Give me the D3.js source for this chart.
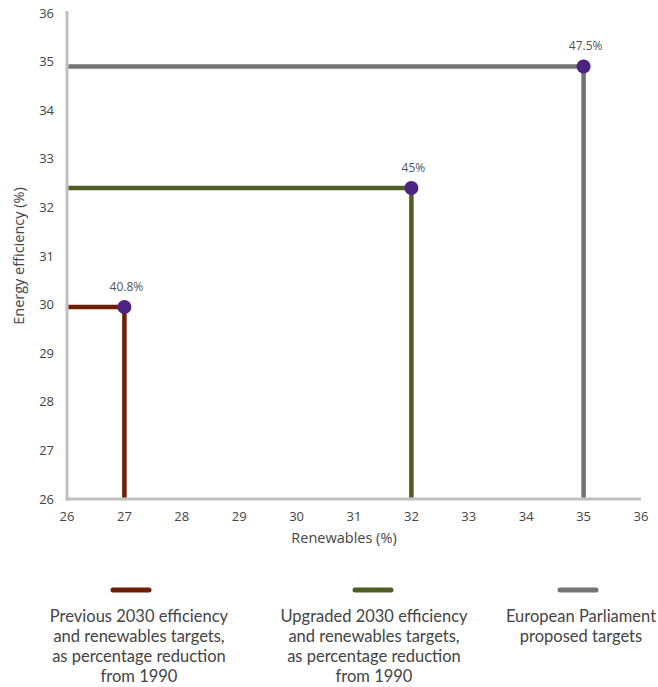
<!DOCTYPE html>
<html><head><meta charset="utf-8">
<script src="https://cdn.jsdelivr.net/npm/d3@7"></script>
<style>
body{margin:0;background:#fff;}
svg{display:block;font-family:"Open Sans",sans-serif;}
</style></head>
<body><svg id="c" width="658" height="687"></svg>
<script>
const seriesNames = ["Previous 2030 efficiency and renewables targets, as percentage reduction from 1990",
  "Upgraded 2030 efficiency and renewables targets, as percentage reduction from 1990",
  "European Parliament proposed targets"];
const renewables = [27, 32, 35];
const efficiency = [29.95, 32.4, 34.9];
const reductionLabels = ["40.8%", "45%", "47.5%"];
const xTicks = [26,27,28,29,30,31,32,33,34,35,36];
const yTicks = [26,27,28,29,30,31,32,33,34,35,36];
const legendLines = [
  ["Previous 2030 efficiency","and renewables targets,","as percentage reduction","from 1990"],
  ["Upgraded 2030 efficiency","and renewables targets,","as percentage reduction","from 1990"],
  ["European Parliament","proposed targets"]
];
const colors = ["#6e1d06","#4f5e22","#747474"];
const dotColor = "#4e2283";

const svg = d3.select("#c");
const x = d3.scaleLinear().domain([26,36]).range([67,641]);
const y = d3.scaleLinear().domain([26,36]).range([499,13]);

// axis lines
svg.append("line").attr("x1",x(26)).attr("x2",x(26)).attr("y1",11).attr("y2",y(26)+1.5)
  .attr("stroke","#bfbfbf").attr("stroke-width",3);
svg.append("line").attr("x1",x(26)-1.5).attr("x2",x(36)).attr("y1",y(26)).attr("y2",y(26))
  .attr("stroke","#bfbfbf").attr("stroke-width",3);

// ticks
svg.append("g").selectAll("text").data(xTicks).join("text")
  .attr("x",d=>x(d)).attr("y",521).attr("text-anchor","middle")
  .attr("font-size",13).attr("fill","#444").text(d=>d);
svg.append("g").selectAll("text").data(yTicks).join("text")
  .attr("x",54).attr("y",d=>y(d)+4.5).attr("text-anchor","end")
  .attr("font-size",13).attr("fill","#444").text(d=>d);

// axis titles
svg.append("text").attr("x",344).attr("y",543).attr("text-anchor","middle")
  .attr("font-size",14.5).attr("fill","#444").text("Renewables (%)");
svg.append("text").attr("transform","translate(24,256) rotate(-90)").attr("text-anchor","middle")
  .attr("font-size",14.5).attr("fill","#444").text("Energy efficiency (%)");

// lines
const data = renewables.map((r,i)=>({r, e:efficiency[i], lab:reductionLabels[i], c:colors[i]}));
const g = svg.append("g");
data.forEach(d=>{
  g.append("path")
    .attr("d",`M${x(26)+1.5},${y(d.e)}H${x(d.r)}V${y(26)-1.5}`)
    .attr("fill","none").attr("stroke",d.c).attr("stroke-width",4.5);
});
data.forEach(d=>{
  g.append("circle").attr("cx",x(d.r)).attr("cy",y(d.e)).attr("r",7).attr("fill",dotColor);
  g.append("text").attr("x",x(d.r)+2).attr("y",y(d.e)-16).attr("text-anchor","middle")
    .attr("font-size",12).attr("fill","#555").text(d.lab);
});

// legend
const swatchX = [131,373,578];
const textX = [139,374,581];
legendLines.forEach((lines,i)=>{
  svg.append("line").attr("x1",swatchX[i]-18).attr("x2",swatchX[i]+18).attr("y1",590).attr("y2",590)
    .attr("stroke",colors[i]).attr("stroke-width",5).attr("stroke-linecap","round");
  const t = svg.append("text").attr("text-anchor","middle").attr("font-family","Lato,sans-serif")
    .attr("font-size",16.5).attr("fill","#444");
  lines.forEach((s,j)=>{
    t.append("tspan").attr("x",textX[i]).attr("y",622+j*20).text(s);
  });
});
</script></body></html>
